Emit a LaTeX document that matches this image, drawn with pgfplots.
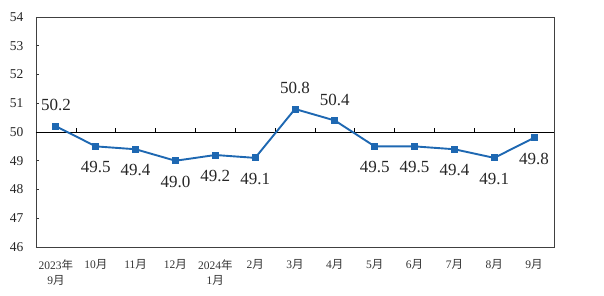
\documentclass[border=0pt]{standalone}
\usepackage{pgfplots}
\pgfplotsset{compat=1.18}
\usepackage{fontspec}
\setmainfont{Liberation Serif}
\newfontfamily\cjk{Noto Sans CJK SC}
\newcommand{\nian}{{\cjk 年}}
\newcommand{\yue}{{\cjk 月}}
\definecolor{lineblue}{RGB}{30,104,178}
\begin{document}
\begin{tikzpicture}
\path[use as bounding box] (-36pt,-48pt) rectangle (568pt,247pt);
\begin{axis}[
  at={(0pt,0pt)}, anchor=south west,
  scale only axis, width=518pt, height=230pt,
  xmin=-0.5, xmax=12.5, ymin=46, ymax=54,
  xtick={0,...,12},
  xticklabels={{2023\nian\\9\yue},{10\yue},{11\yue},{12\yue},{2024\nian\\1\yue},{2\yue},{3\yue},{4\yue},{5\yue},{6\yue},{7\yue},{8\yue},{9\yue}},
  ytick={46,...,54},
  ytick pos=left, tick align=inside,
  major tick length=3pt,
  x tick style={draw=none},
  y tick style={black!80, line width=0.6pt},
  axis line style={draw=black!75, line width=0.8pt},
  /pgf/number format/assume math mode=true,
  xticklabel style={align=center, font=\fontsize{11.5}{15}\selectfont, text=black!80, yshift=-9pt},
  yticklabel style={font=\fontsize{13.5}{14}\selectfont, text=black!85, xshift=-9pt},
  clip=false,
]
\draw[black, line width=0.8pt] (axis cs:-0.5,50) -- (axis cs:12.5,50);
\pgfplotsinvokeforeach{0.5,1.5,...,11.5}{\draw[black, line width=0.6pt] (axis cs:#1,50) -- ([yshift=4pt]axis cs:#1,50);}
\addplot[lineblue, line width=1.9pt, mark=square*, mark size=3pt, mark options={fill=lineblue, draw=lineblue, line width=0pt}]
coordinates {(0,50.2) (1,49.5) (2,49.4) (3,49.0) (4,49.2) (5,49.1) (6,50.8) (7,50.4) (8,49.5) (9,49.5) (10,49.4) (11,49.1) (12,49.8)};
\addplot[draw=none, mark=none, nodes near coords, point meta=explicit symbolic,
  every node near coord/.append style={anchor=center, yshift=21pt, font=\fontsize{17}{17}\selectfont, text=black!85}]
coordinates {(0,50.2)[50.2] (6,50.8)[50.8] (7,50.4)[50.4]};
\addplot[draw=none, mark=none, nodes near coords, point meta=explicit symbolic,
  every node near coord/.append style={anchor=center, yshift=-21pt, font=\fontsize{17}{17}\selectfont, text=black!85}]
coordinates {(1,49.5)[49.5] (2,49.4)[49.4] (3,49.0)[49.0] (4,49.2)[49.2] (5,49.1)[49.1] (8,49.5)[49.5] (9,49.5)[49.5] (10,49.4)[49.4] (11,49.1)[49.1] (12,49.8)[49.8]};
\end{axis}
\end{tikzpicture}
\end{document}
